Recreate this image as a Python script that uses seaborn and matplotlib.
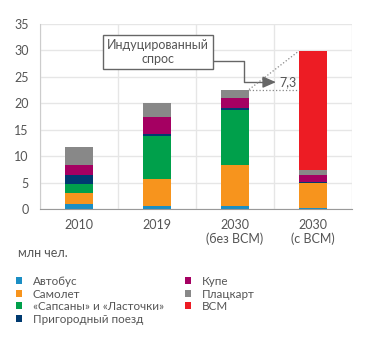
import numpy as np
import pandas as pd
import matplotlib
matplotlib.use("Agg")
import matplotlib.pyplot as plt
from matplotlib.patches import Patch
import seaborn as sns

categories = ["2010", "2019", "2030\n(без ВСМ)", "2030\n(с ВСМ)"]
series_names = ["Автобус", "Самолет", "«Сапсаны» и «Ласточки»", "Пригородный поезд",
                "Купе", "Плацкарт", "ВСМ"]
bus = [0.9, 0.6, 0.5, 0.1]
plane = [2.2, 5.1, 7.8, 4.8]
sapsan = [1.6, 8.1, 10.5, 0.0]
suburban = [1.7, 0.3, 0.3, 0.3]
kupe = [2.0, 3.4, 1.9, 1.2]
platz = [3.4, 2.5, 1.6, 0.9]
hsr = [0.0, 0.0, 0.0, 22.6]
colors = ["#1b8ec4", "#f7941d", "#00a04b", "#003a70", "#a50062", "#888888", "#ed1c24"]

values = [bus, plane, sapsan, suburban, kupe, platz, hsr]
df = pd.DataFrame({n: v for n, v in zip(series_names, values)}, index=categories)
cum = df.cumsum(axis=1)

sns.set_style("white")
plt.rcParams["font.family"] = ["Lato", "DejaVu Sans"]
txt = "#555555"
fs = 9
lfs = 8.4

fig = plt.figure(figsize=(3.71, 3.43), dpi=100)
ax = fig.add_axes([40 / 371, 1 - 209 / 343, 312 / 371, 185 / 343])

bw = 0.36
for name, col in reversed(list(zip(series_names, colors))):
    d = pd.DataFrame({"cat": categories, "val": cum[name].values})
    sns.barplot(data=d, x="cat", y="val", color=col, saturation=1, width=bw,
                order=categories, ax=ax, linewidth=0)

ax.set_xlim(-0.5, 3.5)
ax.set_ylim(0, 35)
ax.set_yticks(np.arange(0, 36, 5))
ax.set_xticks(range(4))
ax.set_xticklabels(categories)
ax.set_xticks(np.arange(-0.5, 3.6, 1), minor=True)
ax.set_xlabel("")
ax.set_ylabel("")
ax.set_axisbelow(True)
ax.yaxis.grid(True, color="#e6e6e6", lw=1)
ax.xaxis.grid(True, which="minor", color="#e6e6e6", lw=1)
ax.xaxis.grid(False, which="major")
for s in ["top", "right"]:
    ax.spines[s].set_visible(False)
ax.spines["left"].set_color("#cccccc")
ax.spines["bottom"].set_color("#999999")
ax.tick_params(axis="x", which="major", length=0, pad=7, labelsize=fs, labelcolor=txt)
ax.tick_params(axis="x", which="minor", length=4, color="#999999", direction="out")
ax.tick_params(axis="y", length=0, pad=8, labelsize=fs, labelcolor=txt)

# annotation
tot = cum.iloc[:, -1].values
diff = tot[3] - tot[2]
ax.text(1.013, 29.7, "Индуцированный\nспрос", ha="center", va="center", fontsize=fs,
        color=txt, linespacing=1.2,
        bbox=dict(boxstyle="square,pad=0.35", fc="white", ec="#666666", lw=1))
ax.plot([1.718, 2.115, 2.115, 2.40], [28.0, 28.0, 24.0, 24.0], color="#666666", lw=1)
ax.annotate("", xy=(2.56, 24.0), xytext=(2.38, 24.0),
            arrowprops=dict(arrowstyle="-|>,head_length=0.8,head_width=0.35",
                            color="#666666", lw=1))
ax.text(2.575, 24.0, f"{diff:.1f}".replace(".", ","), ha="left", va="center",
        fontsize=fs, color=txt)
ax.plot([2 + bw / 2, 3 - bw / 2], [tot[2], tot[3]], color="#888888", lw=0.9, ls=":")
ax.plot([2 + bw / 2, 3 - bw / 2], [tot[2], tot[2]], color="#888888", lw=0.9, ls=":")

fig.text(18 / 371, 1 - 253 / 343, "млн чел.", fontsize=fs, color=txt, va="center")

handles = [Patch(facecolor=c, edgecolor="none") for c in colors]
leg = fig.legend(handles, series_names, loc="upper left", ncol=2,
                 bbox_to_anchor=(16 / 371, 1 - 276 / 343), frameon=False,
                 fontsize=lfs, handlelength=0.55, handleheight=0.55, handletextpad=0.9,
                 columnspacing=1.8, labelspacing=0.13, borderpad=0, borderaxespad=0)
for t in leg.get_texts():
    t.set_color(txt)

fig.savefig("out.png", dpi=100)
